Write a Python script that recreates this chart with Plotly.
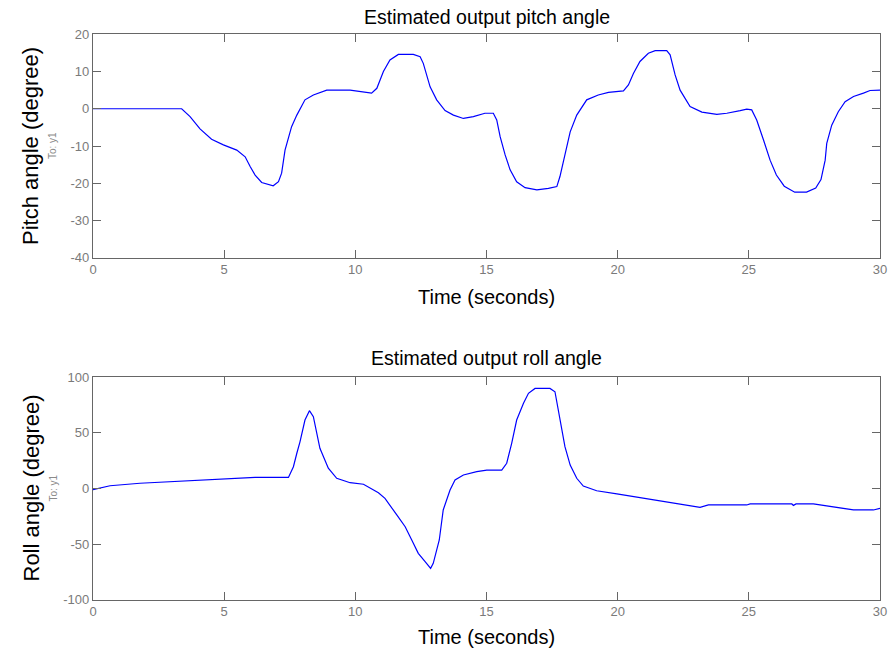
import plotly.graph_objects as go
from plotly.subplots import make_subplots

# Estimated pitch angle (degree) over time (seconds)
pitch_t = [0, 3.38, 3.70, 4.08, 4.52, 4.97, 5.48, 5.80, 5.99, 6.18, 6.43, 6.87, 7.07,
           7.19, 7.32, 7.57, 7.77, 8.08, 8.40, 8.91, 9.80, 10.31, 10.62, 10.82, 11.07,
           11.32, 11.64, 12.21, 12.47, 12.59, 12.85, 13.10, 13.42, 13.74, 14.12, 14.50,
           14.94, 15.26, 15.39, 15.52, 15.71, 15.90, 16.15, 16.47, 16.92, 17.36, 17.68,
           17.80, 17.99, 18.19, 18.44, 18.82, 19.26, 19.65, 20.22, 20.41, 20.60, 20.85,
           21.17, 21.43, 21.87, 22.00, 22.19, 22.38, 22.76, 23.21, 23.78, 24.16, 24.67,
           24.92, 25.11, 25.30, 25.56, 25.81, 26.05, 26.35, 26.75, 27.20, 27.55, 27.75,
           27.91, 27.97, 28.16, 28.41, 28.67, 28.99, 29.37, 29.62, 30.0]
pitch_v = [0, 0, -2.1, -5.4, -8.2, -9.7, -11.1, -12.9, -15.5, -17.8, -19.8, -20.7, -19.6,
           -17.3, -11.1, -4.8, -1.7, 2.4, 3.7, 5.0, 5.0, 4.6, 4.2, 5.5, 10.0,
           13.1, 14.6, 14.6, 14.0, 12.2, 5.9, 2.4, -0.5, -1.7, -2.6, -2.1,
           -1.2, -1.2, -3.0, -7.5, -12.4, -16.4, -19.6, -21.2, -21.8, -21.4, -20.9,
           -18.2, -12.4, -6.2, -1.7, 2.4, 3.7, 4.4, 4.8, 6.4, 9.5, 12.7,
           14.9, 15.6, 15.6, 14.5, 9.1, 5.0, 0.6, -0.9, -1.5, -1.2, -0.5,
           -0.1, -0.3, -3.0, -8.4, -13.8, -17.8, -20.8, -22.4, -22.4, -21.3, -19.0,
           -13.8, -9.3, -4.4, -0.8, 1.9, 3.3, 4.2, 4.9, 5.0]

# Estimated roll angle (degree) over time (seconds)
roll_t = [0, 0.65, 1.79, 2.94, 4.72, 6.18, 7.45, 7.64, 7.77, 7.89, 8.08, 8.25, 8.40,
          8.65, 8.97, 9.29, 9.80, 10.31, 10.88, 11.13, 11.58, 11.90, 12.15, 12.40,
          12.66, 12.87, 12.97, 13.20, 13.35, 13.61, 13.80, 14.12, 14.63, 15.01, 15.58,
          15.77, 15.96, 16.15, 16.41, 16.60, 16.85, 17.42, 17.61, 17.80, 17.99, 18.19,
          18.44, 18.69, 19.20, 19.97, 20.85, 21.87, 22.63, 23.14, 23.46, 24.92, 25.05,
          26.64, 26.70, 26.80, 27.46, 28.22, 28.99, 29.75, 30.0]
roll_v = [-1, 2.5, 4.7, 6.1, 8.5, 10.0, 10.0, 19.6, 31.7, 42.0, 61.6, 70.0, 64.6,
          36.2, 18.2, 9.2, 5.2, 3.8, -3.8, -8.8, -23.8, -34.4, -46.3, -58.3,
          -65.8, -71.8, -67.3, -46.3, -19.3, -1.3, 7.6, 12.1, 15.1, 16.6, 16.6,
          22.7, 40.6, 61.6, 76.6, 85.6, 90.0, 90.0, 87.0, 61.6, 37.6, 21.1,
          9.2, 2.2, -2.0, -4.9, -8.3, -11.9, -14.8, -16.9, -14.8, -14.8, -13.9,
          -13.9, -15.2, -13.9, -13.9, -16.9, -19.3, -19.3, -17.8]

# Tick values shared by both panels / per panel
time_ticks = [0, 5, 10, 15, 20, 25, 30]
pitch_ticks = [-40, -30, -20, -10, 0, 10, 20]
roll_ticks = [-100, -50, 0, 50, 100]

W, H = 892, 659
FONT = "Liberation Sans, Arial, sans-serif"
AXIS_GREY = "#666666"
TICK_GREY = "#7a7a7a"

# pixel geometry of the two axes boxes
x0_px, x1_px = 93, 880
top_box = (34.3, 257.7)
bot_box = (377.3, 599.7)


def py(px):
    return 1 - px / H


def pxx(px):
    return px / W


def tick_text(vals):
    # plain hyphen-minus for negative numbers
    return [str(v) for v in vals]


fig = make_subplots(rows=2, cols=1)
fig.add_trace(go.Scatter(x=pitch_t, y=pitch_v, mode="lines",
                         line=dict(color="#0000ff", width=1.2)), row=1, col=1)
fig.add_trace(go.Scatter(x=roll_t, y=roll_v, mode="lines",
                         line=dict(color="#0000ff", width=1.2)), row=2, col=1)

axis_common = dict(
    showline=True, linecolor=AXIS_GREY, linewidth=1.2, mirror="ticks",
    ticks="inside", ticklen=8, tickcolor=AXIS_GREY, tickwidth=1,
    showgrid=False, zeroline=False, automargin=False,
    tickfont=dict(family=FONT, size=13, color=TICK_GREY),
)

xdom = [pxx(x0_px), pxx(x1_px)]
fig.update_layout(
    template="none",
    width=W, height=H,
    margin=dict(l=0, r=0, t=0, b=0),
    paper_bgcolor="white", plot_bgcolor="white",
    showlegend=False,
    xaxis=dict(domain=xdom, range=[0, 30], tickvals=time_ticks,
               ticktext=tick_text(time_ticks), **axis_common),
    yaxis=dict(domain=[py(top_box[1]), py(top_box[0])], range=[-40, 20],
               tickvals=pitch_ticks, ticktext=tick_text(pitch_ticks), **axis_common),
    xaxis2=dict(domain=xdom, range=[0, 30], tickvals=time_ticks,
                ticktext=tick_text(time_ticks), **axis_common),
    yaxis2=dict(domain=[py(bot_box[1]), py(bot_box[0])], range=[-100, 100],
                tickvals=roll_ticks, ticktext=tick_text(roll_ticks), **axis_common),
)

xc = pxx((x0_px + x1_px) / 2)


def label(text, x, y, size, color="black", angle=0):
    fig.add_annotation(text=text, x=x, y=y, xref="paper", yref="paper",
                       xanchor="center", yanchor="middle", showarrow=False,
                       textangle=angle, font=dict(family=FONT, size=size, color=color))


label("Estimated output pitch angle", xc, py(17), 19.5)
label("Time (seconds)", xc, py(297), 20)
label("Pitch angle (degree)", pxx(31), py((top_box[0] + top_box[1]) / 2), 22, angle=-90)
label("To: y1", pxx(53), py((top_box[0] + top_box[1]) / 2), 10, color="#8a8a8a", angle=-90)

label("Estimated output roll angle", xc, py(358), 19.5)
label("Time (seconds)", xc, py(637), 20)
label("Roll angle (degree)", pxx(31), py((bot_box[0] + bot_box[1]) / 2), 22, angle=-90)
label("To: y1", pxx(53), py((bot_box[0] + bot_box[1]) / 2), 10, color="#8a8a8a", angle=-90)

fig.write_html("out.html")
